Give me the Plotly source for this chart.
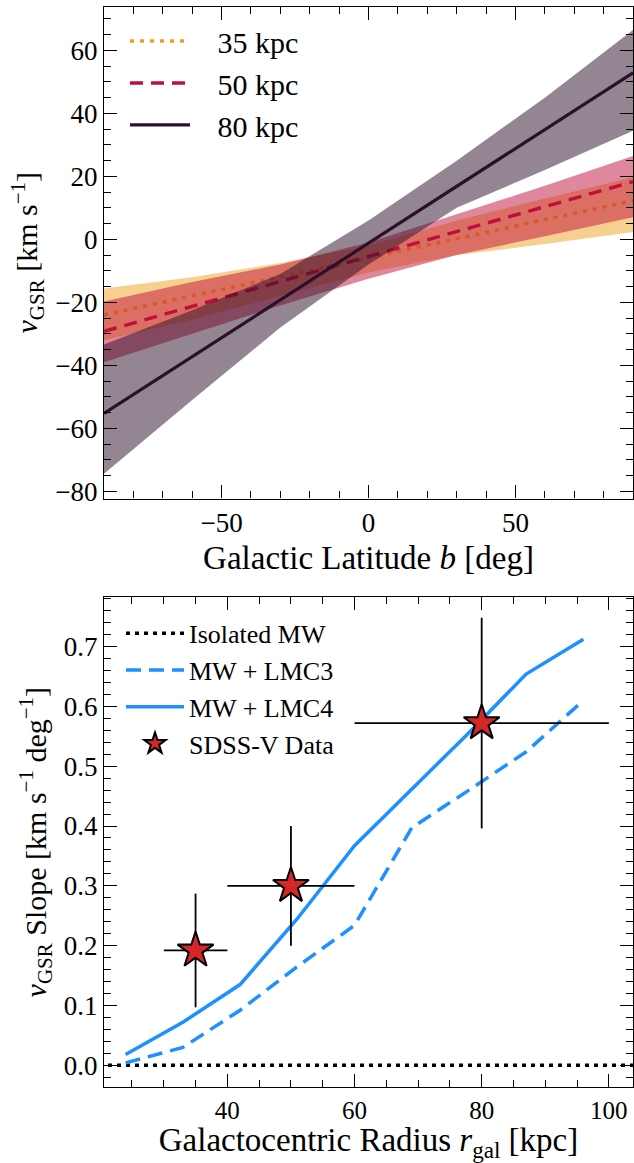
import plotly.graph_objects as go

# ---------------- data: top panel ----------------
b_line = [-90, 90]
v35_line = [-24.0, 12.3]
v50_line = [-29.2, 18.3]
v80_line = [-55.3, 52.9]

b_band = [-90, -60, -30, 0, 30, 60, 90]
v35_hi = [-15.6, -12.0, -7.5, -2.0, 6.0, 13.0, 19.7]
v35_lo = [-32.0, -25.5, -18.0, -10.5, -5.0, -1.5, 2.3]
v50_hi = [-19.7, -13.5, -8.0, -1.0, 8.0, 17.0, 26.5]
v50_lo = [-39.0, -30.0, -21.0, -12.5, -5.0, 1.0, 7.0]
v80_hi = [-33.4, -22.5, -11.0, 6.0, 25.0, 45.0, 66.5]
v80_lo = [-74.4, -51.0, -28.0, -8.0, 10.0, 22.0, 34.5]

# ---------------- data: bottom panel ----------------
r_model = [24, 33, 42, 51, 60, 69, 78, 87, 96]
slope_lmc3 = [0.004, 0.030, 0.092, 0.165, 0.234, 0.397, 0.460, 0.524, 0.610]
slope_lmc4 = [0.018, 0.072, 0.135, 0.245, 0.367, 0.462, 0.556, 0.654, 0.712]
iso_r = [0, 120]
iso_slope = [0.0, 0.0]

r_data = [35, 50, 80]
slope_data = [0.192, 0.300, 0.572]
r_err = [5, 10, 20]
slope_err = [0.095, 0.100, 0.176]

C35 = "#f0a020"
C50 = "#c0103a"
C80 = "#2b0f2b"
F35 = "rgba(240,160,32,0.5)"
F50 = "rgba(192,16,58,0.5)"
F80 = "rgba(41,11,37,0.5)"
BLUE = "#1e90ff"
FONT = "Liberation Serif"
SP = "\u00a0\u00a0\u00a0"

fig = go.Figure()

def band(xs, hi, lo, fill, ax):
    return go.Scatter(x=xs + xs[::-1], y=hi + lo[::-1], fill="toself",
                      fillcolor=fill, line=dict(width=0), mode="lines",
                      hoverinfo="skip", showlegend=False, xaxis=ax[0], yaxis=ax[1])

top = ("x", "y")
fig.add_trace(band(b_band, v35_hi, v35_lo, F35, top))
fig.add_trace(go.Scatter(x=b_line, y=v35_line, mode="lines", name=SP + "35 kpc",
                         line=dict(color=C35, width=3.5, dash="4px,6px"),
                         legend="legend", legendgroup="a"))
fig.add_trace(band(b_band, v50_hi, v50_lo, F50, top))
fig.add_trace(go.Scatter(x=b_line, y=v50_line, mode="lines", name=SP + "50 kpc",
                         line=dict(color=C50, width=3.5, dash="13px,8px"),
                         legend="legend", legendgroup="b"))
fig.add_trace(band(b_band, v80_hi, v80_lo, F80, top))
fig.add_trace(go.Scatter(x=b_line, y=v80_line, mode="lines", name=SP + "80 kpc",
                         line=dict(color=C80, width=3.2),
                         legend="legend", legendgroup="c"))

fig.add_trace(go.Scatter(x=iso_r, y=iso_slope, mode="lines", name="Isolated MW",
                         line=dict(color="black", width=3.5, dash="4px,5px"),
                         xaxis="x2", yaxis="y2", legend="legend2", legendgroup="d"))
fig.add_trace(go.Scatter(x=r_model, y=slope_lmc3, mode="lines", name="MW + LMC3",
                         line=dict(color=BLUE, width=3.5, dash="15px,8px"),
                         xaxis="x2", yaxis="y2", legend="legend2", legendgroup="e"))
fig.add_trace(go.Scatter(x=r_model, y=slope_lmc4, mode="lines", name="MW + LMC4",
                         line=dict(color=BLUE, width=3.5),
                         xaxis="x2", yaxis="y2", legend="legend2", legendgroup="f"))
fig.add_trace(go.Scatter(x=r_data, y=slope_data, mode="markers", name="SDSS-V Data",
                         marker=dict(symbol="star", size=27, color="#d62728",
                                     line=dict(color="black", width=2)),
                         error_x=dict(type="data", array=r_err, color="black", thickness=1.8, width=0),
                         error_y=dict(type="data", array=slope_err, color="black", thickness=1.8, width=0),
                         xaxis="x2", yaxis="y2", legend="legend2", legendgroup="g"))

W, H = 634, 1163
xdom = [104 / W, 633 / W]
XTITLE = dict(family=FONT, size=33, color="black")
YTITLE = dict(family=FONT, size=30, color="black")
ax_common = dict(showgrid=False, zeroline=False, showline=True, linecolor="black",
                 linewidth=1.3, mirror="ticks", ticks="inside", ticklen=13,
                 tickwidth=1.2, tickcolor="black")
TICKF = dict(family=FONT, size=27, color="black")
minor = lambda d: dict(dtick=d, ticks="inside", ticklen=7, tickcolor="black", tickwidth=1)

fig.update_layout(
    width=W, height=H, margin=dict(l=0, r=0, t=0, b=0),
    paper_bgcolor="white", plot_bgcolor="white",
    font=dict(family=FONT, color="black"),
    xaxis=dict(domain=xdom, range=[-90, 90], anchor="y", dtick=50, tick0=0, minor=minor(10),
               tickfont=TICKF,
               title=dict(text="Galactic Latitude <i>b</i> [deg]", font=XTITLE, standoff=8),
               **ax_common),
    yaxis=dict(domain=[1 - 502 / H, 1 - 7 / H], range=[-82.3, 73.8], anchor="x", dtick=20,
               tick0=0, minor=minor(5), tickfont=TICKF,
               title=dict(text="<i>v</i><sub>GSR</sub> [km s<sup>−1</sup>]", font=YTITLE, standoff=8),
               **ax_common),
    xaxis2=dict(domain=xdom, range=[20.6, 103.8], anchor="y2", dtick=20, tick0=0, minor=minor(5),
                tickfont=dict(family=FONT, size=25, color="black"),
                title=dict(text="Galactocentric Radius <i>r</i><sub>gal</sub> [kpc]", font=XTITLE,
                           standoff=13),
                **ax_common),
    yaxis2=dict(domain=[1 - 1095 / H, 1 - 601 / H], range=[-0.037, 0.783], anchor="x2",
                dtick=0.1, tick0=0, tickformat=".1f", minor=minor(0.02), tickfont=TICKF,
                title=dict(text="<i>v</i><sub>GSR</sub> Slope [km s<sup>−1</sup> deg<sup>−1</sup>]",
                           font=YTITLE, standoff=8),
                **ax_common),
    legend=dict(x=125 / W, y=1 - 15 / H, xanchor="left", yanchor="top",
                bgcolor="rgba(0,0,0,0)", font=dict(family=FONT, size=30),
                itemwidth=60, tracegroupgap=0, traceorder="grouped"),
    legend2=dict(x=121 / W, y=1 - 614 / H, xanchor="left", yanchor="top",
                 bgcolor="rgba(0,0,0,0)", font=dict(family=FONT, size=26),
                 itemwidth=58, tracegroupgap=0, traceorder="grouped"),
)

fig.write_html("out.html")
